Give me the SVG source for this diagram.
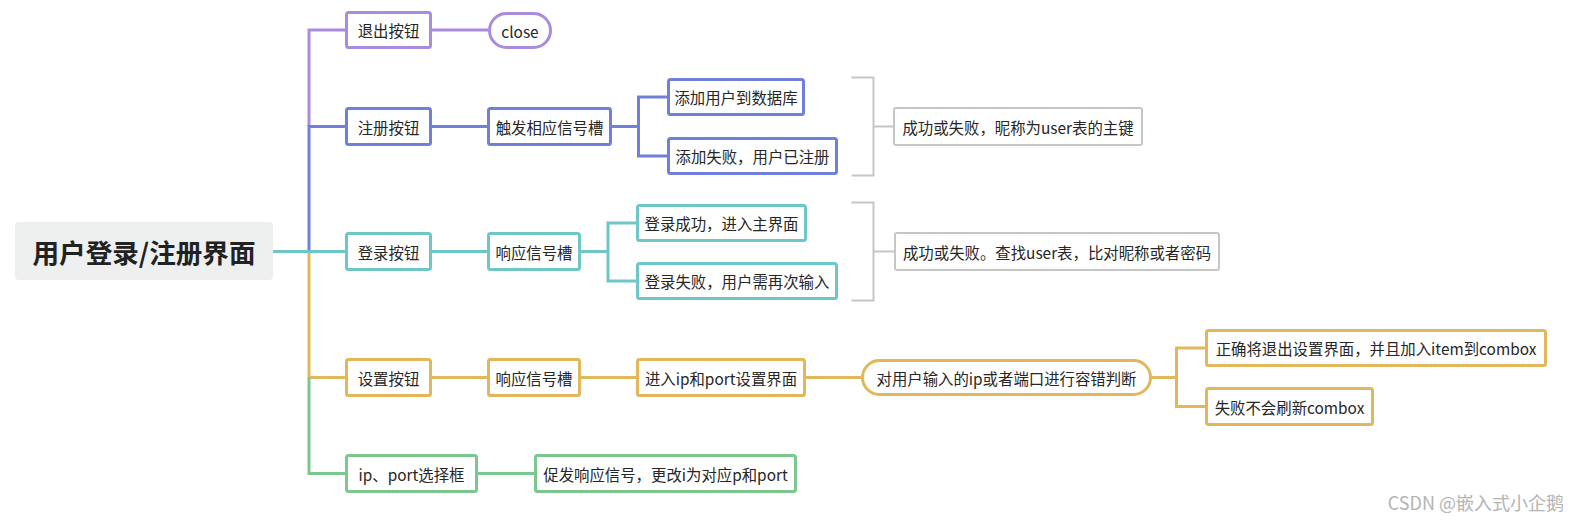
<svg xmlns="http://www.w3.org/2000/svg" width="1580" height="525" viewBox="0 0 1580 525">
<style>
text{font-family:"Microsoft YaHei","Noto Sans CJK SC","Noto Sans",sans-serif;font-size:15.4px;fill:#262626;text-anchor:middle;dominant-baseline:central}
.n{fill:#fff;stroke-width:3}
.l{fill:none;stroke-width:3}
.pu{stroke:#a98ce0}.bl{stroke:#7080da}.te{stroke:#6ec6c6}.go{stroke:#e2b75b}.gr{stroke:#7cc78d}
.gy{fill:#fff;stroke:#c6c6c6;stroke-width:2}
.gl{fill:none;stroke:#c6c6c6;stroke-width:2}
</style>
<rect width="1580" height="525" fill="#fff"/>
<g id="connectors">
<path class="l pu" d="M345,30 H309 V126.5"/>
<path class="l bl" d="M345,126.5 H309 V251"/>
<path class="l go" d="M345,377.5 H309 V251"/>
<path class="l gr" d="M345,473.5 H309 V377.5"/>
<path class="l te" d="M273,251.5 H345"/>
<path class="l pu" d="M432,30 H488"/>
<path class="l bl" d="M432,126.5 H487"/>
<path class="l bl" d="M612,126.5 H638.5 M638.5,97 V156 M637,97 H667 M637,156 H667"/>
<path class="l te" d="M432,251.5 H487"/>
<path class="l te" d="M581,251.5 H608 M608,223 V281 M606.5,223 H636 M606.5,281 H636"/>
<path class="gl" d="M851.5,77.5 H873.5 V175.5 H851.5 M873.5,126.5 H894"/>
<path class="gl" d="M851.5,202.5 H873.5 V300.5 H851.5 M873.5,251.5 H895"/>
<path class="l go" d="M432,377.5 H487 M581,377.5 H636 M806,377.5 H861 M1152,377.5 H1176.5 M1176.5,348 V406.5 M1175,348 H1205 M1175,406.5 H1205"/>
<path class="l gr" d="M478,473.5 H534"/>
</g>
<g id="root"><rect x="15" y="222" width="258" height="58" rx="4" fill="#eef0f0"/><text x="144" y="251" style="font-size:26.6px;font-weight:bold;fill:#222">用户登录/注册界面</text></g>
<g id="n-exit"><rect class="n pu" x="346.5" y="12.5" width="84" height="35" rx="2"/><text x="388.5" y="30">退出按钮</text></g>
<g id="n-close"><rect class="n pu" x="489.5" y="13.5" width="61" height="34" rx="17"/><text x="520" y="30.5">close</text></g>
<g id="n-reg"><rect class="n bl" x="346.5" y="108.5" width="84" height="36" rx="2"/><text x="388.5" y="126.5">注册按钮</text></g>
<g id="n-reg-slot"><rect class="n bl" x="488.5" y="108.5" width="122" height="36" rx="2"/><text x="549.5" y="126.5">触发相应信号槽</text></g>
<g id="n-reg-add"><rect class="n bl" x="668.5" y="79.5" width="135" height="35" rx="2"/><text x="736" y="97">添加用户到数据库</text></g>
<g id="n-reg-fail"><rect class="n bl" x="668.5" y="138.5" width="168" height="35" rx="2"/><text x="752.5" y="156">添加失败，用户已注册</text></g>
<g id="n-reg-note"><rect class="gy" x="894" y="108" width="248" height="37" rx="2"/><text x="1018" y="126.5">成功或失败，昵称为user表的主键</text></g>
<g id="n-login"><rect class="n te" x="346.5" y="233.5" width="84" height="36" rx="2"/><text x="388.5" y="251.5">登录按钮</text></g>
<g id="n-login-slot"><rect class="n te" x="488.5" y="233.5" width="91" height="36" rx="2"/><text x="534" y="251.5">响应信号槽</text></g>
<g id="n-login-ok"><rect class="n te" x="637.5" y="205.5" width="168" height="35" rx="2"/><text x="721.5" y="223">登录成功，进入主界面</text></g>
<g id="n-login-fail"><rect class="n te" x="637.5" y="263.5" width="199" height="35" rx="2"/><text x="737" y="281">登录失败，用户需再次输入</text></g>
<g id="n-login-note"><rect class="gy" x="895" y="233" width="324" height="37" rx="2"/><text x="1057" y="251.5">成功或失败。查找user表，比对昵称或者密码</text></g>
<g id="n-set"><rect class="n go" x="346.5" y="359.5" width="84" height="36" rx="2"/><text x="388.5" y="377.5">设置按钮</text></g>
<g id="n-set-slot"><rect class="n go" x="488.5" y="359.5" width="91" height="36" rx="2"/><text x="534" y="377.5">响应信号槽</text></g>
<g id="n-set-enter"><rect class="n go" x="637.5" y="359.5" width="167" height="36" rx="2"/><text x="721" y="377.5">进入ip和port设置界面</text></g>
<g id="n-set-check"><rect class="n go" x="862.5" y="360.5" width="288" height="34" rx="17"/><text x="1006.5" y="377.5">对用户输入的ip或者端口进行容错判断</text></g>
<g id="n-set-ok"><rect class="n go" x="1206.5" y="330.5" width="339" height="35" rx="2"/><text x="1376" y="348">正确将退出设置界面，并且加入item到combox</text></g>
<g id="n-set-fail"><rect class="n go" x="1206.5" y="388.5" width="166" height="36" rx="2"/><text x="1289.5" y="406.5">失败不会刷新combox</text></g>
<g id="n-ip"><rect class="n gr" x="346.5" y="455.5" width="130" height="36" rx="2"/><text x="411.5" y="473.5">ip、port选择框</text></g>
<g id="n-ip-sig"><rect class="n gr" x="535.5" y="455.5" width="260" height="36" rx="2"/><text x="665.5" y="473.5">促发响应信号，更改i为对应p和port</text></g>
<text x="1564" y="502" style="text-anchor:end;font-size:18px;fill:#b4b4b4">CSDN @嵌入式小企鹅</text>
</svg>
